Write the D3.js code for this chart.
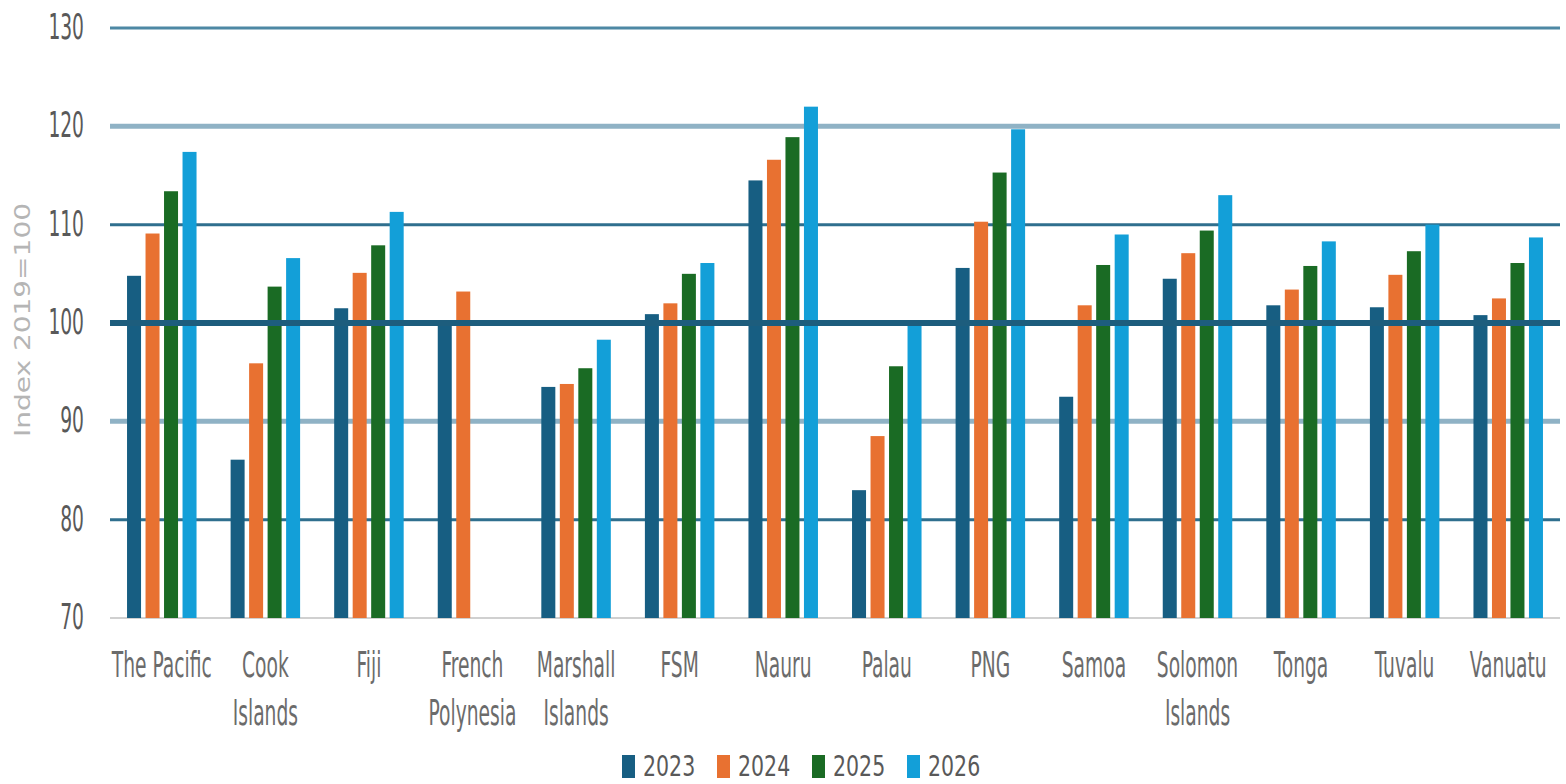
<!DOCTYPE html>
<html><head><meta charset="utf-8">
<script src="https://cdn.jsdelivr.net/npm/d3@7"></script>
<style>
html,body{margin:0;padding:0;background:#fff;}
svg{display:block;}
text{font-family:'Liberation Sans Narrow','DejaVu Sans Condensed',sans-serif;}
</style></head><body>
<svg id="chart" width="1566" height="784"></svg>
<script>
const categories = ["The Pacific","Cook\nIslands","Fiji","French\nPolynesia","Marshall\nIslands","FSM","Nauru","Palau","PNG","Samoa","Solomon\nIslands","Tonga","Tuvalu","Vanuatu"];
const seriesNames = ["2023","2024","2025","2026"];
const v2023 = [104.8, 86.1, 101.5, 99.7, 93.5, 100.9, 114.5, 83.0, 105.6, 92.5, 104.5, 101.8, 101.6, 100.8];
const v2024 = [109.1, 95.9, 105.1, 103.2, 93.8, 102.0, 116.6, 88.5, 110.3, 101.8, 107.1, 103.4, 104.9, 102.5];
const v2025 = [113.4, 103.7, 107.9, null, 95.4, 105.0, 118.9, 95.6, 115.3, 105.9, 109.4, 105.8, 107.3, 106.1];
const v2026 = [117.4, 106.6, 111.3, null, 98.3, 106.1, 122.0, 100.0, 119.7, 109.0, 113.0, 108.3, 110.0, 108.7];
const yTicks = [70, 80, 90, 100, 110, 120, 130];
const yTitle = "Index 2019=100";

const seriesValues = [v2023, v2024, v2025, v2026];
const colors = ["#175e82", "#e87131", "#1a6b24", "#139fd8"];

(function() {
const svg = d3.select("#chart");
const mLeft = 110, mRight = 1560, mTop = 28, mBottom = 618;
const SY = 1.4, SX = 0.83;

const x0 = d3.scaleBand().domain(categories).range([mLeft, mRight]).padding(0);
const bw = x0.bandwidth();
const gw = 69.5;
const x1 = d3.scaleBand().domain(seriesNames).range([(bw - gw) / 2, (bw + gw) / 2]).paddingInner(0.243).paddingOuter(0);
const y = d3.scaleLinear().domain([70, 130]).range([mBottom, mTop]);

function gridStyle(v) {
  if (v === 70) return {c: "#d0d0d0", w: 2};
  if (v === 100) return {c: "#1d5d7d", w: 6};
  if (v === 120 || v === 90) return {c: "#8fb2c5", w: 5};
  if (v === 130) return {c: "#4d88a4", w: 3};
  return {c: "#2f6f8e", w: 3};
}

const grid = svg.append("g");
grid.selectAll("line").data(yTicks.filter(v => v !== 100)).join("line")
  .attr("x1", mLeft).attr("x2", mRight)
  .attr("y1", d => y(d)).attr("y2", d => y(d))
  .attr("stroke", d => gridStyle(d).c).attr("stroke-width", d => gridStyle(d).w);

const rows = [];
categories.forEach((c, i) => seriesNames.forEach((s, j) => {
  const v = seriesValues[j][i];
  if (v != null) rows.push({c, s, v, j});
}));
svg.append("g").selectAll("rect").data(rows).join("rect")
  .attr("x", d => x0(d.c) + x1(d.s))
  .attr("width", x1.bandwidth())
  .attr("y", d => y(d.v))
  .attr("height", d => y(70) - y(d.v))
  .attr("fill", d => colors[d.j]);

svg.append("line")
  .attr("x1", mLeft).attr("x2", mRight)
  .attr("y1", y(100)).attr("y2", y(100))
  .attr("stroke", gridStyle(100).c).attr("stroke-width", gridStyle(100).w);

svg.append("g").selectAll("text").data(yTicks).join("text")
  .attr("transform", d => `translate(84,${y(d) + 11}) scale(${SX},${SY})`)
  .attr("text-anchor", "end")
  .attr("font-size", 25)
  .attr("fill", "#595959")
  .text(d => d);

const xl = svg.append("g").selectAll("g").data(categories).join("g")
  .attr("transform", d => `translate(${x0(d) + bw / 2},0)`);
xl.each(function(d) {
  const lines = d.split("\n");
  d3.select(this).selectAll("text").data(lines).join("text")
    .attr("transform", (t, k) => `translate(0,${677 + k * 48}) scale(${SX},${SY})`)
    .attr("text-anchor", "middle")
    .attr("font-size", 25)
    .attr("fill", "#6b6b6b")
    .text(t => t);
});

svg.append("text")
  .attr("transform", "translate(30,320) rotate(-90)")
  .attr("text-anchor", "middle")
  .attr("font-size", 22)
  .attr("fill", "#b5b5b5")
  .attr("textLength", 234)
  .attr("lengthAdjust", "spacingAndGlyphs")
  .text(yTitle);

const lg = svg.append("g").selectAll("g").data(seriesNames).join("g")
  .attr("transform", (d, i) => `translate(${622 + i * 95},0)`);
lg.append("rect").attr("x", 0).attr("y", 755).attr("width", 13).attr("height", 23)
  .attr("fill", (d, i) => colors[i]);
lg.append("text")
  .attr("transform", `translate(21,776) scale(0.95,1.2)`)
  .attr("font-size", 24)
  .attr("fill", "#595959")
  .text(d => d);
})();
</script>
</body></html>
